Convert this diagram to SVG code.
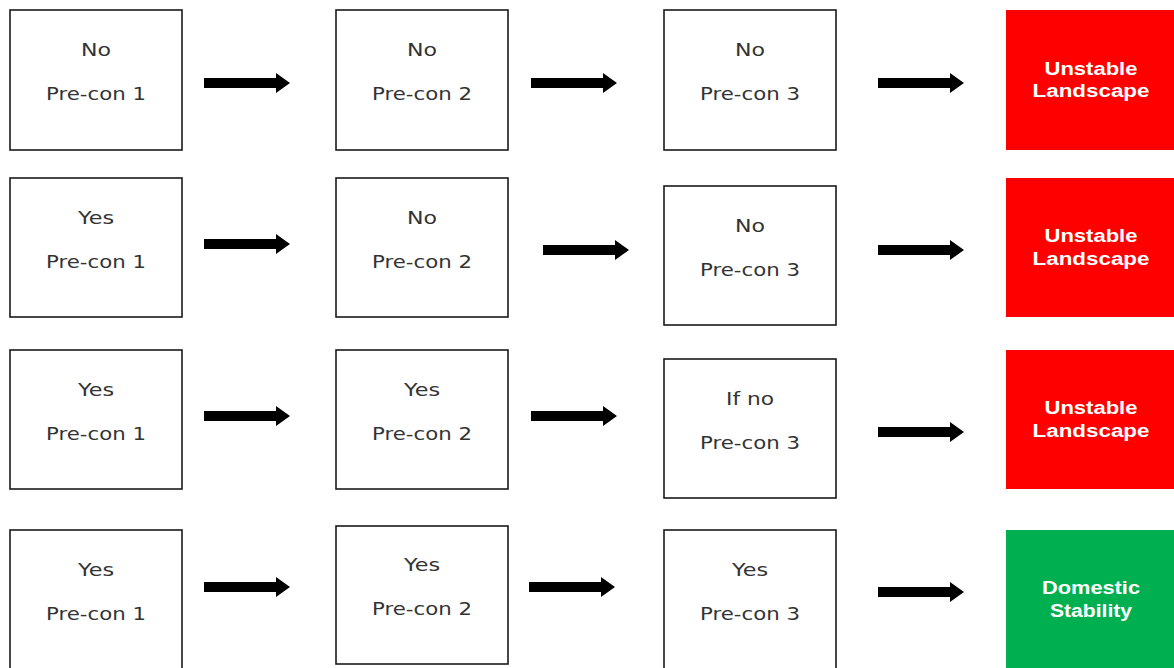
<svg xmlns="http://www.w3.org/2000/svg" width="1174" height="668" viewBox="0 0 1174 668">
<style>
.box{fill:#fff;stroke:#1a1a1a;stroke-width:1.6}
.t{font-family:"DejaVu Sans",Verdana,sans-serif;font-size:18px;fill:#333;text-anchor:middle}
.red{fill:#ff0000}
.green{fill:#00b050}
.w{font-family:"Liberation Sans",Arial,sans-serif;font-weight:bold;font-size:18px;fill:#fff;text-anchor:middle}
.arr{fill:#000}
</style>
<defs>
<path id="a" d="M0,-5 H72 V-10 L86,0 L72,10 V5 H0 Z"/>
</defs>
<rect width="1174" height="668" fill="#fff"/>
<g id="r1c1"><rect class="box" x="10" y="10" width="172" height="140"/><text class="t" x="96" y="56" textLength="30" lengthAdjust="spacingAndGlyphs">No</text><text class="t" x="96" y="100" textLength="100" lengthAdjust="spacingAndGlyphs">Pre-con 1</text></g>
<g id="r1c2"><rect class="box" x="336" y="10" width="172" height="140"/><text class="t" x="422" y="56" textLength="30" lengthAdjust="spacingAndGlyphs">No</text><text class="t" x="422" y="100" textLength="100" lengthAdjust="spacingAndGlyphs">Pre-con 2</text></g>
<g id="r1c3"><rect class="box" x="664" y="10" width="172" height="140"/><text class="t" x="750" y="56" textLength="30" lengthAdjust="spacingAndGlyphs">No</text><text class="t" x="750" y="100" textLength="100" lengthAdjust="spacingAndGlyphs">Pre-con 3</text></g>
<g id="r1c4"><rect class="red" x="1006" y="10" width="170" height="140"/><text class="w" x="1091" y="75" textLength="93" lengthAdjust="spacingAndGlyphs">Unstable</text><text class="w" x="1091" y="97" textLength="117" lengthAdjust="spacingAndGlyphs">Landscape</text></g>

<g id="r2c1"><rect class="box" x="10" y="178" width="172" height="139"/><text class="t" x="96" y="224" textLength="36" lengthAdjust="spacingAndGlyphs">Yes</text><text class="t" x="96" y="268" textLength="100" lengthAdjust="spacingAndGlyphs">Pre-con 1</text></g>
<g id="r2c2"><rect class="box" x="336" y="178" width="172" height="139"/><text class="t" x="422" y="224" textLength="30" lengthAdjust="spacingAndGlyphs">No</text><text class="t" x="422" y="268" textLength="100" lengthAdjust="spacingAndGlyphs">Pre-con 2</text></g>
<g id="r2c3"><rect class="box" x="664" y="186" width="172" height="139"/><text class="t" x="750" y="232" textLength="30" lengthAdjust="spacingAndGlyphs">No</text><text class="t" x="750" y="276" textLength="100" lengthAdjust="spacingAndGlyphs">Pre-con 3</text></g>
<g id="r2c4"><rect class="red" x="1006" y="178" width="170" height="139"/><text class="w" x="1091" y="242" textLength="93" lengthAdjust="spacingAndGlyphs">Unstable</text><text class="w" x="1091" y="265" textLength="117" lengthAdjust="spacingAndGlyphs">Landscape</text></g>

<g id="r3c1"><rect class="box" x="10" y="350" width="172" height="139"/><text class="t" x="96" y="396" textLength="36" lengthAdjust="spacingAndGlyphs">Yes</text><text class="t" x="96" y="440" textLength="100" lengthAdjust="spacingAndGlyphs">Pre-con 1</text></g>
<g id="r3c2"><rect class="box" x="336" y="350" width="172" height="139"/><text class="t" x="422" y="396" textLength="36" lengthAdjust="spacingAndGlyphs">Yes</text><text class="t" x="422" y="440" textLength="100" lengthAdjust="spacingAndGlyphs">Pre-con 2</text></g>
<g id="r3c3"><rect class="box" x="664" y="359" width="172" height="139"/><text class="t" x="750" y="405" textLength="48" lengthAdjust="spacingAndGlyphs">If no</text><text class="t" x="750" y="449" textLength="100" lengthAdjust="spacingAndGlyphs">Pre-con 3</text></g>
<g id="r3c4"><rect class="red" x="1006" y="350" width="170" height="139"/><text class="w" x="1091" y="414" textLength="93" lengthAdjust="spacingAndGlyphs">Unstable</text><text class="w" x="1091" y="437" textLength="117" lengthAdjust="spacingAndGlyphs">Landscape</text></g>

<g id="r4c1"><rect class="box" x="10" y="530" width="172" height="142"/><text class="t" x="96" y="576" textLength="36" lengthAdjust="spacingAndGlyphs">Yes</text><text class="t" x="96" y="620" textLength="100" lengthAdjust="spacingAndGlyphs">Pre-con 1</text></g>
<g id="r4c2"><rect class="box" x="336" y="526" width="172" height="138"/><text class="t" x="422" y="571" textLength="36" lengthAdjust="spacingAndGlyphs">Yes</text><text class="t" x="422" y="615" textLength="100" lengthAdjust="spacingAndGlyphs">Pre-con 2</text></g>
<g id="r4c3"><rect class="box" x="664" y="530" width="172" height="142"/><text class="t" x="750" y="576" textLength="36" lengthAdjust="spacingAndGlyphs">Yes</text><text class="t" x="750" y="620" textLength="100" lengthAdjust="spacingAndGlyphs">Pre-con 3</text></g>
<g id="r4c4"><rect class="green" x="1006" y="530" width="170" height="142"/><text class="w" x="1091" y="594" textLength="98" lengthAdjust="spacingAndGlyphs">Domestic</text><text class="w" x="1091" y="617" textLength="82" lengthAdjust="spacingAndGlyphs">Stability</text></g>

<g id="connectors" class="arr">
<use href="#a" x="204" y="83"/>
<use href="#a" x="531" y="83"/>
<use href="#a" x="878" y="83"/>
<use href="#a" x="204" y="244"/>
<use href="#a" x="543" y="250"/>
<use href="#a" x="878" y="250"/>
<use href="#a" x="204" y="416"/>
<use href="#a" x="531" y="416"/>
<use href="#a" x="878" y="432"/>
<use href="#a" x="204" y="587"/>
<use href="#a" x="529" y="587"/>
<use href="#a" x="878" y="592"/>
</g>
</svg>
